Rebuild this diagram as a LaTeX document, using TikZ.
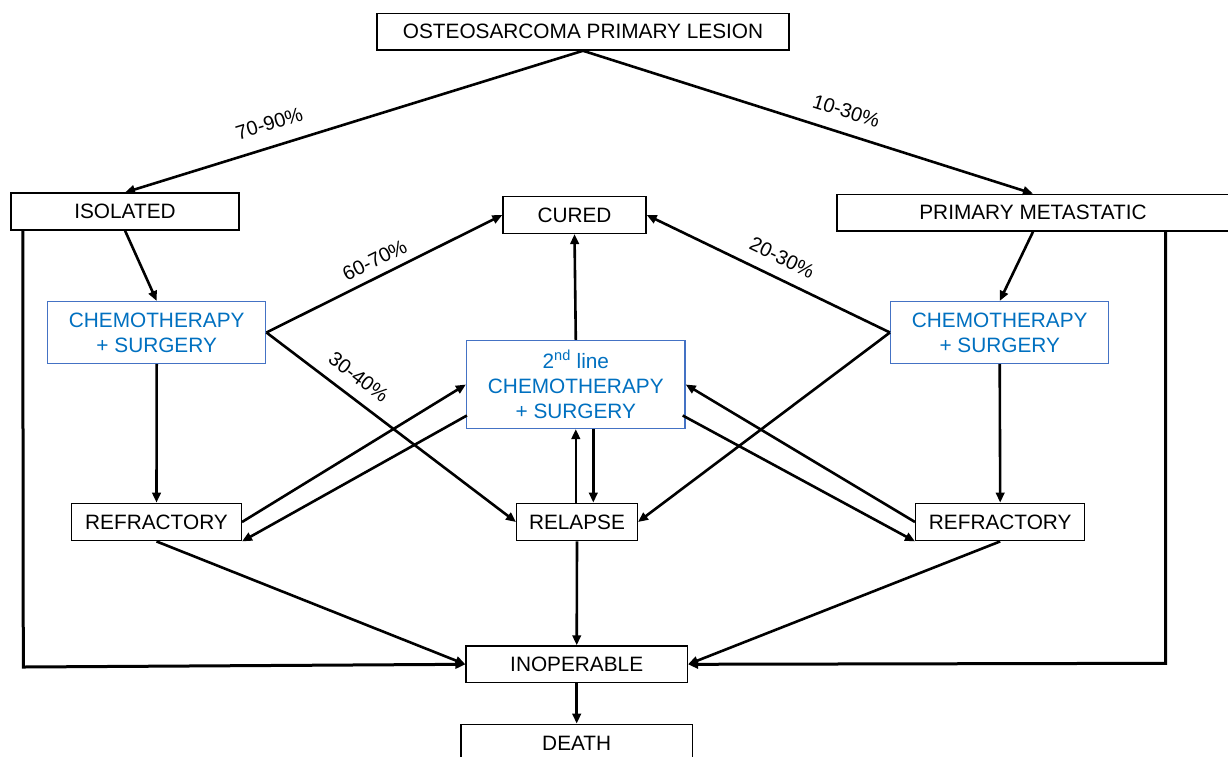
\documentclass[tikz,border=0pt]{standalone}
\usepackage{fontspec}
\setmainfont{Liberation Sans}
\usetikzlibrary{calc,arrows.meta}
\definecolor{txtblue}{RGB}{0,112,192}
\definecolor{boxblue}{RGB}{68,114,196}
\begin{document}
\begin{tikzpicture}[x=1pt,y=-1pt,
 every node/.style={font=\fontsize{20.8}{25}\selectfont},
 box/.style={draw=black, line width=1.4pt, inner sep=0pt, minimum height=36.7pt, align=center},
 bluebox/.style={draw=boxblue, line width=1.5pt, inner sep=0pt, text=txtblue, align=center},
 conn/.style={line width=2.6pt, line join=miter, -{Triangle[length=10pt,width=8.5pt]}},
 thick conn/.style={conn, line width=3pt},
 pct/.style={sloped, inner sep=0pt, font=\fontsize{20}{24}\selectfont}
]
\fill[white] (0,0) rectangle (1228,756);
\useasboundingbox (0,0) rectangle (1228,756);

\node[box, minimum width=412pt] (top) at (583,31.7) {OSTEOSARCOMA PRIMARY LESION};
\node[box, minimum width=228.3pt] (iso) at (125,211.5) {ISOLATED};
\node[box, minimum width=143pt] (cured) at (574.5,215) {CURED};
\node[box, minimum width=392pt] (pm) at (1033,212.7) {PRIMARY METASTATIC};
\node[bluebox, minimum width=218pt, minimum height=61.6pt] (chemoL) at (156.7,332.5) {CHEMOTHERAPY\\+ SURGERY};
\node[bluebox, minimum width=218pt, minimum height=61.6pt] (chemoR) at (999.7,332.5) {CHEMOTHERAPY\\+ SURGERY};
\node[bluebox, minimum width=218.3pt, minimum height=87.6pt] (second) at (575.8,384.5) {2\textsuperscript{nd} line\\CHEMOTHERAPY\\+ SURGERY};
\node[box, minimum width=169.6pt, minimum height=37.4pt] (refL) at (156.5,522) {REFRACTORY};
\node[box, minimum width=120.6pt, minimum height=37.4pt] (relapse) at (577,522) {RELAPSE};
\node[box, minimum width=169pt, minimum height=37.4pt] (refR) at (1000.2,522) {REFRACTORY};
\node[box, minimum width=221.3pt] (inop) at (576.7,664.3) {INOPERABLE};
\node[box, minimum width=231.3pt, minimum height=37.4pt] (death) at (576.7,743) {DEATH};

\coordinate (lcorner) at (23.3,667);
\coordinate (rcorner) at (1165.7,663.3);

\draw[conn] (top.south) -- node[pct, above=15pt, pos=0.67]{70-90\%} (iso.north);
\draw[conn] (top.south) -- node[pct, above=14pt, pos=0.57]{10-30\%} (pm.north);
\draw[conn] (iso.south) -- (chemoL.north);
\draw[conn] (pm.south) -- (chemoR.north);
\draw[thick conn] ($(iso.south west)+(12.6,0)$) -- (lcorner) -- (inop.west);
\draw[thick conn] (pm.south -| rcorner) -- (rcorner) -- (inop.east);
\draw[conn] (chemoL.east) -- node[pct, above=8pt, pos=0.49]{60-70\%} (cured.west);
\draw[conn] (chemoL.east) -- node[pct, above=12pt, pos=0.32]{30-40\%} (relapse.west);
\draw[conn] (chemoR.west) -- node[pct, above=12pt, pos=0.48]{20-30\%} (cured.east);
\draw[conn] (chemoR.west) -- (relapse.east);
\draw[conn] (second.north) -- (cured.south);
\draw[conn] (chemoL.south) -- (refL.north);
\draw[conn] (chemoR.south) -- (refR.north);
\draw[conn] (refL.east) -- (second.west);
\draw[conn] ($(second.west)+(1,31)$) -- (refL.south east);
\draw[conn] (refR.west) -- (second.east);
\draw[conn] ($(second.east)+(-3,31)$) -- (refR.south west);
\draw[conn] (relapse.north -| second.south) -- (second.south);
\draw[conn] ($(second.south)+(17.5,0)$) -- ($(relapse.north)+(16.3,0)$);
\draw[conn] (relapse.south) -- (inop.north);
\draw[conn] (refL.south) -- (inop.west);
\draw[conn] (refR.south) -- (inop.east);
\draw[conn] (inop.south) -- (death.north);
\end{tikzpicture}
\end{document}
